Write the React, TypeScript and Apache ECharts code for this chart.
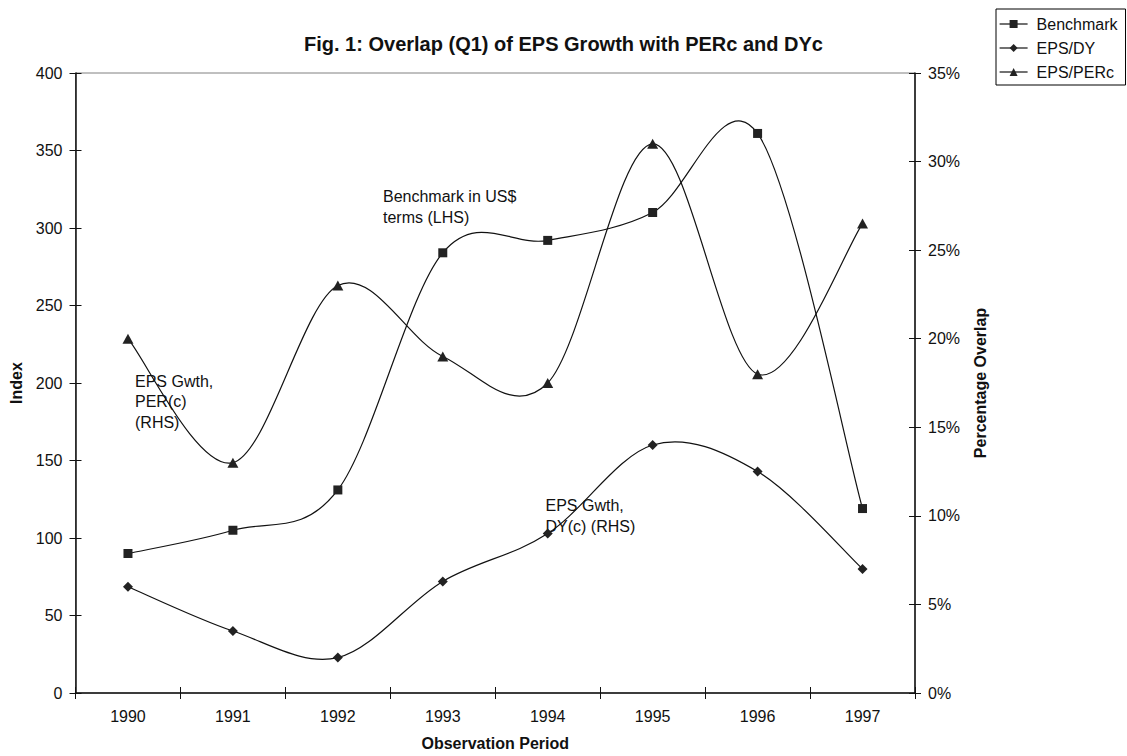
import React, { useEffect, useRef } from "react";
import * as echarts from "echarts";

const years = ["1990", "1991", "1992", "1993", "1994", "1995", "1996", "1997"];
const benchmark = [90, 105, 131, 284, 292, 310, 361, 119];
const epsDY = [6.0, 3.5, 2.0, 6.3, 9.0, 14.0, 12.5, 7.0];
const epsPER = [20, 13, 23, 19, 17.5, 31, 18, 26.5];

const FONT = "'Liberation Sans', Arial, sans-serif";
const INK = "#111";

export default function App() {
  const ref = useRef<HTMLDivElement>(null);
  useEffect(() => {
    if (!ref.current) return;
    const chart = echarts.init(ref.current, undefined, { renderer: "svg" });
    const axisLine = { show: true, lineStyle: { color: INK, width: 1.5 } };
    const tickOut = { show: true, inside: false, length: 6, lineStyle: { color: INK, width: 1 } };
    const tickIn = { show: true, inside: true, length: 6, lineStyle: { color: INK, width: 1 } };
    const label = { color: INK, fontSize: 16, fontFamily: FONT };
    const nameStyle = { color: INK, fontSize: 16, fontWeight: "bold" as const, fontFamily: FONT };

    // Smoothed curve (Catmull-Rom style, like the spreadsheet's smoothed line) drawn via the axes' scales
    const curveSeries = (name: string, values: number[], yIdx: number) => ({
      name: name + " curve",
      type: "custom",
      coordinateSystem: "cartesian2d",
      xAxisIndex: 0,
      yAxisIndex: yIdx,
      silent: true,
      encode: { x: 0, y: 1 },
      data: values.map((v, i) => [i, v]),
      renderItem: (params: any, api: any) => {
        const i = params.dataIndex;
        const n = values.length;
        if (i >= n - 1) return null;
        const P = (k: number) => {
          const kk = Math.max(0, Math.min(n - 1, k));
          return api.coord([kk, values[kk]]);
        };
        const p0 = P(i - 1), p1 = P(i), p2 = P(i + 1), p3 = P(i + 2);
        const c1x = p1[0] + (p2[0] - p0[0]) / 6;
        const c1y = p1[1] + (p2[1] - p0[1]) / 6;
        const c2x = p2[0] - (p3[0] - p1[0]) / 6;
        const c2y = p2[1] - (p3[1] - p1[1]) / 6;
        return {
          type: "path",
          shape: {
            pathData: `M${p1[0]} ${p1[1]} C${c1x} ${c1y} ${c2x} ${c2y} ${p2[0]} ${p2[1]}`,
          },
          style: { fill: "none", stroke: INK, lineWidth: 1.2 },
        };
      },
      z: 2,
    });

    const markerSeries = (name: string, data: number[], yIdx: number, symbol: string, size: any) => ({
      name,
      type: "line",
      data,
      yAxisIndex: yIdx,
      xAxisIndex: 0,
      symbol,
      symbolSize: size,
      showSymbol: true,
      lineStyle: { color: INK, width: 1.2, opacity: 0 },
      itemStyle: { color: "#222", borderWidth: 0 },
      emphasis: { disabled: true },
      z: 3,
    });

    chart.setOption({
      animation: false,
      backgroundColor: "#fff",
      textStyle: { fontFamily: FONT },
      title: {
        text: "Fig. 1: Overlap (Q1) of EPS Growth with PERc and DYc",
        left: "center",
        top: 29,
        textStyle: { color: INK, fontSize: 20, fontWeight: "bold", fontFamily: FONT },
      },
      legend: {
        orient: "vertical",
        left: 996,
        top: 9,
        padding: [7, 8, 5, 3],
        itemGap: 8,
        itemWidth: 28,
        itemHeight: 10,
        borderColor: "#000",
        borderWidth: 1,
        lineStyle: { color: INK, width: 1.2, opacity: 1 },
        textStyle: { color: INK, fontSize: 16, fontFamily: FONT, padding: [0, 0, 0, 4] },
        data: ["Benchmark", "EPS/DY", "EPS/PERc"],
      },
      grid: {
        left: 75.5,
        right: 212,
        top: 73,
        bottom: 62,
        show: true,
        borderColor: "#808080",
        borderWidth: 1,
        containLabel: false,
      },
      xAxis: [
        {
          type: "category",
          data: years,
          boundaryGap: true,
          position: "bottom",
          axisLine,
          axisTick: tickOut,
          axisLabel: { ...label, margin: 15 },
          splitLine: { show: false },
          name: "Observation Period",
          nameLocation: "middle",
          nameGap: 42,
          nameTextStyle: nameStyle,
        },
        {
          type: "category",
          data: years,
          boundaryGap: true,
          position: "bottom",
          axisLine: { show: false },
          axisTick: tickIn,
          axisLabel: { show: false },
          splitLine: { show: false },
        },
      ],
      yAxis: [
        {
          type: "value",
          min: 0,
          max: 400,
          interval: 50,
          position: "left",
          axisLine,
          axisTick: tickOut,
          axisLabel: { ...label, margin: 13 },
          splitLine: { show: false },
          name: "Index",
          nameLocation: "middle",
          nameRotate: 90,
          nameGap: 50,
          nameTextStyle: nameStyle,
        },
        {
          type: "value",
          min: 0,
          max: 35,
          interval: 5,
          position: "right",
          axisLine,
          axisTick: tickOut,
          axisLabel: { ...label, margin: 13, formatter: (v: number) => `${v}%` },
          splitLine: { show: false },
          name: "Percentage Overlap",
          nameLocation: "middle",
          nameRotate: 90,
          nameGap: 57,
          nameTextStyle: nameStyle,
        },
        {
          type: "value",
          min: 0,
          max: 400,
          interval: 50,
          position: "left",
          axisLine: { show: false },
          axisTick: tickIn,
          axisLabel: { show: false },
          splitLine: { show: false },
        },
        {
          type: "value",
          min: 0,
          max: 35,
          interval: 5,
          position: "right",
          axisLine: { show: false },
          axisTick: tickIn,
          axisLabel: { show: false },
          splitLine: { show: false },
        },
      ],
      graphic: [
        {
          type: "text",
          x: 383,
          y: 186.5,
          style: { text: "Benchmark in US$\nterms (LHS)", font: `16px ${FONT}`, fill: INK, lineHeight: 20.5 },
        },
        {
          type: "text",
          x: 135,
          y: 371,
          style: { text: "EPS Gwth,\nPER(c)\n(RHS)", font: `16px ${FONT}`, fill: INK, lineHeight: 20.5 },
        },
        {
          type: "text",
          x: 545.5,
          y: 495.5,
          style: { text: "EPS Gwth,\nDY(c) (RHS)", font: `16px ${FONT}`, fill: INK, lineHeight: 20.5 },
        },
      ],
      series: [
        curveSeries("Benchmark", benchmark, 0),
        curveSeries("EPS/DY", epsDY, 1),
        curveSeries("EPS/PERc", epsPER, 1),
        markerSeries("Benchmark", benchmark, 0, "rect", 9),
        markerSeries("EPS/DY", epsDY, 1, "diamond", [10, 10]),
        markerSeries("EPS/PERc", epsPER, 1, "triangle", [11, 10]),
      ],
    });
    return () => chart.dispose();
  }, []);
  return (
    <div
      ref={ref}
      style={{ position: "absolute", left: 0, top: 0, width: 1127, height: 756, background: "#fff" }}
    />
  );
}
